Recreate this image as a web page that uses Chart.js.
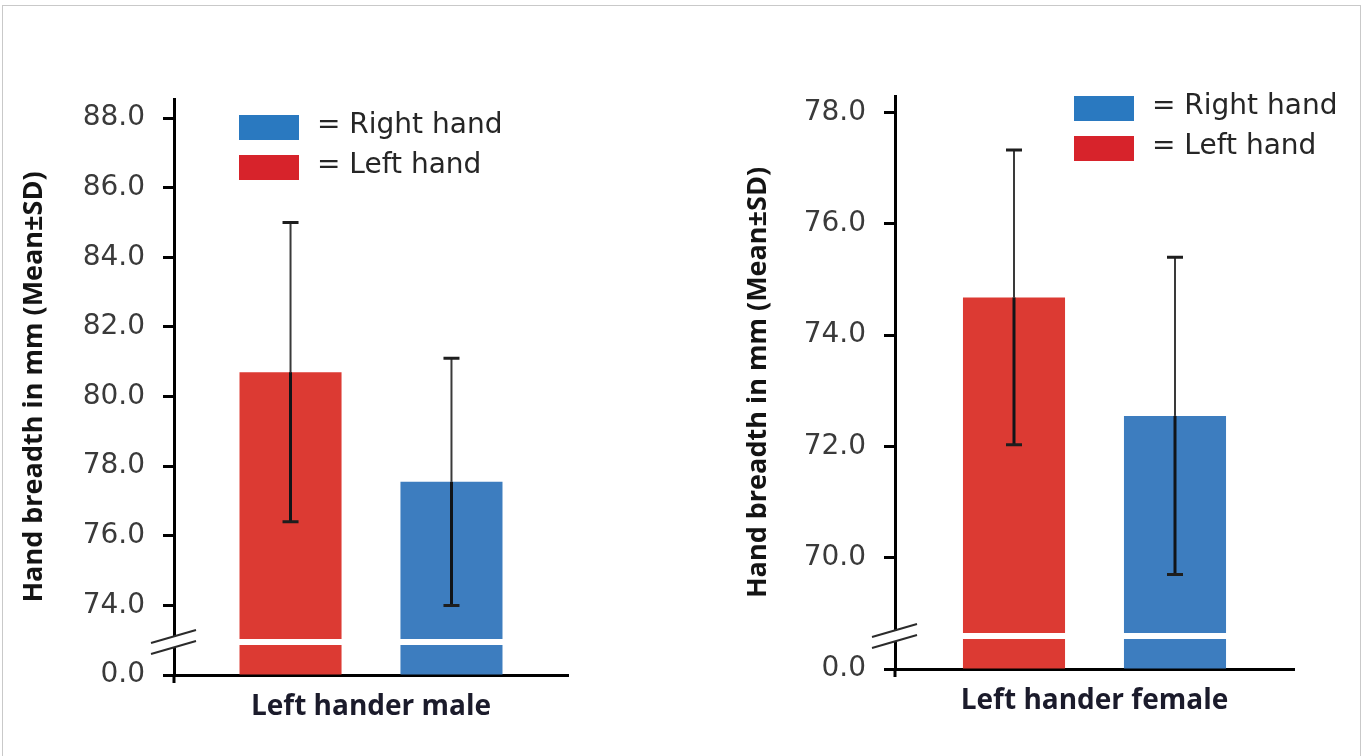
<!DOCTYPE html>
<html>
<head>
<meta charset="utf-8">
<script src="https://cdn.jsdelivr.net/npm/chart.js@4.4.1/dist/chart.umd.min.js"></script>
<style>
  html, body { margin: 0; padding: 0; background: #fff; }
  body { width: 1365px; height: 756px; position: relative; overflow: hidden; }
  .frame { position: absolute; left: 2px; top: 5px; width: 1359px; height: 760px;
           border: 1px solid #c9c9c9; box-sizing: border-box; pointer-events: none; }
  canvas { position: absolute; top: 0; }
  #male { left: 0; }
  #female { left: 690px; }
</style>
</head>
<body>
<div class="frame"></div>
<canvas id="male" width="600" height="756"></canvas>
<canvas id="female" width="675" height="756"></canvas>
<script>
// ---- data -------------------------------------------------------------
const groups = ['Left hander male', 'Left hander female'];
const seriesNames = ['Left hand', 'Right hand'];

// mean hand breadth (mm) and standard deviation, order follows seriesNames
const maleMeans = [80.7, 77.55];
const maleSD = [4.3, 3.55];
const femaleMeans = [74.68, 72.55];
const femaleSD = [2.65, 2.85];

// value axis: the lowest tick sits on the broken part of the axis and reads 0.0
const maleTickValues = [72, 74, 76, 78, 80, 82, 84, 86, 88];
const maleTickLabels = ['0.0', '74.0', '76.0', '78.0', '80.0', '82.0', '84.0', '86.0', '88.0'];
const femaleTickValues = [68, 70, 72, 74, 76, 78];
const femaleTickLabels = ['0.0', '70.0', '72.0', '74.0', '76.0', '78.0'];

const maleRange = [72, 88.55];
const femaleRange = [68, 78.3];

// ---- styling ----------------------------------------------------------
const barColors = ['#dc3a33', '#3d7dbf'];
const swatchColors = ['#d7232b', '#2a79c0'];
const yTitle = 'Hand breadth in mm (Mean\u00b1SD)';
const BREAK_RISE = 33;   // px above the baseline where the axis is broken

Chart.defaults.font.family = '"DejaVu Sans", sans-serif';
Chart.defaults.animation = false;

// Mean ± SD whiskers, white break stripe through each bar
const errorBars = {
  id: 'errorBars',
  afterDatasetsDraw(chart) {
    const { ctx, chartArea, scales: { y } } = chart;
    const yBreak = chartArea.bottom - BREAK_RISE;
    ctx.save();
    chart.data.datasets.forEach((ds, di) => {
      const meta = chart.getDatasetMeta(di);
      meta.data.forEach((bar, i) => {
        // break stripe
        ctx.fillStyle = '#ffffff';
        ctx.fillRect(bar.x - bar.width / 2 - 1, yBreak - 3, bar.width + 2, 6);

        const m = ds.data[i], sd = ds.sd[i];
        const yHi = y.getPixelForValue(m + sd);
        const yLo = y.getPixelForValue(m - sd);
        const yTop = bar.y;
        ctx.lineCap = 'butt';
        // part above the bar
        ctx.strokeStyle = '#3a3a3a';
        ctx.lineWidth = 2;
        ctx.beginPath(); ctx.moveTo(bar.x, yHi); ctx.lineTo(bar.x, yTop); ctx.stroke();
        // part inside the bar
        ctx.strokeStyle = '#111418';
        ctx.lineWidth = 3;
        ctx.beginPath(); ctx.moveTo(bar.x, yTop); ctx.lineTo(bar.x, yLo); ctx.stroke();
        // caps
        ctx.strokeStyle = '#1e1e1e';
        ctx.lineWidth = 3;
        ctx.beginPath();
        ctx.moveTo(bar.x - 8, yHi); ctx.lineTo(bar.x + 8, yHi);
        ctx.moveTo(bar.x - 8, yLo); ctx.lineTo(bar.x + 8, yLo);
        ctx.stroke();
      });
    });
    ctx.restore();
  },
  afterDraw(chart) {
    const { ctx, chartArea } = chart;
    const ax = chartArea.left;
    const yBreak = chartArea.bottom - BREAK_RISE;
    ctx.save();
    // y axis runs a little past the x axis
    ctx.strokeStyle = '#000';
    ctx.lineWidth = 3;
    ctx.beginPath(); ctx.moveTo(ax, chartArea.bottom); ctx.lineTo(ax, chartArea.bottom + 8); ctx.stroke();
    // gap in the axis
    ctx.fillStyle = '#fff';
    ctx.fillRect(ax - 3, yBreak - 5, 6, 10);
    // double slash
    ctx.strokeStyle = '#2b2b2b';
    ctx.lineWidth = 2;
    [-5.5, 5.5].forEach(off => {
      ctx.beginPath();
      ctx.moveTo(ax - 23, yBreak + off + 6.5);
      ctx.lineTo(ax + 22, yBreak + off - 6.5);
      ctx.stroke();
    });
    ctx.restore();
  }
};

// Swatch legend placed inside the plot area
const handLegend = {
  id: 'handLegend',
  afterDraw(chart, args, opts) {
    const { ctx, chartArea } = chart;
    const x0 = chartArea.left + opts.dx;
    const y0 = chartArea.top + opts.dy;
    ctx.save();
    ctx.font = '28px "DejaVu Sans"';
    ctx.textBaseline = 'middle';
    ctx.textAlign = 'left';
    opts.order.forEach((di, row) => {
      const ds = chart.data.datasets[di];
      const y = y0 + row * opts.rowGap;
      ctx.fillStyle = ds.swatchColor;
      ctx.fillRect(x0, y, 60, 25);
      ctx.fillStyle = '#262626';
      ctx.fillText('= ' + ds.label, x0 + 78, y + 11);
    });
    ctx.restore();
  }
};

function makeChart(canvasId, group, means, sds, range, tickValues, tickLabels, layout) {
  const datasets = seriesNames.map((name, s) => ({
    label: name,
    data: [means[s]],
    sd: [sds[s]],
    base: range[0],
    backgroundColor: barColors[s],
    swatchColor: swatchColors[s],
    borderWidth: 0,
    categoryPercentage: layout.catPct,
    barPercentage: 0.634
  }));

  return new Chart(document.getElementById(canvasId), {
    type: 'bar',
    data: { labels: [group], datasets },
    plugins: [errorBars, handLegend],
    options: {
      responsive: false,
      events: [],
      layout: { padding: { top: layout.top, left: 0, right: layout.right, bottom: 0 } },
      plugins: {
        legend: { display: false },
        tooltip: { enabled: false },
        handLegend: { dx: layout.legendDx, dy: layout.legendDy, rowGap: 40, order: [1, 0] }
      },
      scales: {
        x: {
          offset: true,
          grid: { display: true, drawOnChartArea: false, drawTicks: false, color: 'rgba(0,0,0,0)' },
          border: { display: true, width: 3, color: '#000' },
          ticks: {
            padding: 15,
            color: '#1b1b2b',
            font: { family: '"Open Sans", sans-serif', weight: 'bold', size: 28 }
          },
          afterFit: s => { s.height = layout.xHeight; }
        },
        y: {
          min: range[0],
          max: range[1],
          afterBuildTicks: s => { s.ticks = tickValues.map(v => ({ value: v })); },
          ticks: {
            callback: (v, i) => tickLabels[i],
            padding: 18,
            color: '#3a3a3a',
            font: { size: 28 }
          },
          grid: { display: true, drawOnChartArea: false, drawTicks: true, tickLength: 11, tickWidth: 3, tickColor: '#000' },
          border: { display: true, width: 3, color: '#000' },
          title: {
            display: true,
            text: yTitle,
            color: '#141414',
            font: { family: '"Open Sans", sans-serif', weight: 'bold', size: 27 },
            padding: { top: layout.titlePad, bottom: 0 }
          },
          afterFit: s => { s.width = layout.yWidth; }
        }
      }
    }
  });
}

makeChart('male', groups[0], maleMeans, maleSD, maleRange, maleTickValues, maleTickLabels,
  { top: 99, right: 32, xHeight: 81, yWidth: 174, titlePad: 18, catPct: 0.817, legendDx: 65, legendDy: 16 });

makeChart('female', groups[1], femaleMeans, femaleSD, femaleRange, femaleTickValues, femaleTickLabels,
  { top: 96, right: 71, xHeight: 87, yWidth: 205, titlePad: 52, catPct: 0.807, legendDx: 179, legendDy: 0 });
</script>
</body>
</html>
